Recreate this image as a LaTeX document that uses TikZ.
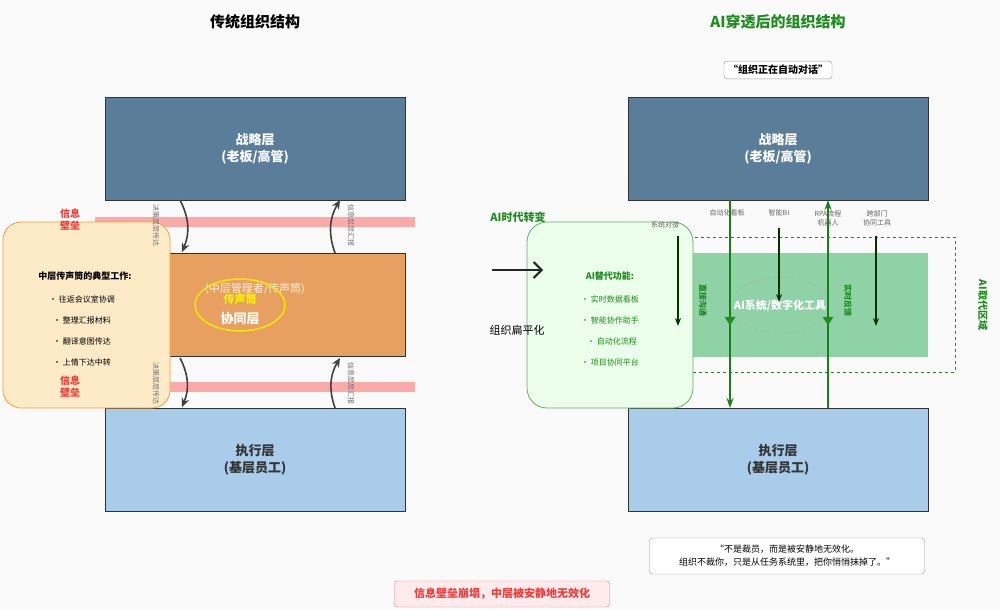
\documentclass[tikz,border=0pt]{standalone}
\usepackage{fontspec}
\setmainfont{Noto Sans CJK SC}
\usetikzlibrary{arrows.meta,shapes.geometric}
\definecolor{topc}{HTML}{5A7E9A}
\definecolor{midc}{HTML}{E8A060}
\definecolor{botc}{HTML}{A8CCE9}
\definecolor{gfill}{HTML}{8ED2A6}
\definecolor{gdark}{HTML}{1E8C1E}
\definecolor{notec}{HTML}{FDEBC8}
\definecolor{pinkc}{HTML}{FBAAAA}
\definecolor{redc}{HTML}{F03C3C}
\tikzset{
  layer/.style={draw=black!80,line width=0.8pt,minimum width=300pt,minimum height=103pt,align=center,font=\fontsize{13}{17}\selectfont\bfseries},
  vlab/.style={rotate=-90,font=\fontsize{7}{8}\selectfont,text=black!55},
  gvlab/.style={rotate=-90,font=\fontsize{8}{9}\selectfont\bfseries,text=gdark},
  small/.style={font=\fontsize{8}{10}\selectfont},
  curv/.style={-{Stealth[length=9pt,width=8pt]},line width=1.6pt,black!75},
  garr/.style={-{Stealth[length=10pt,width=7pt]},line width=2pt,gdark!90!black},
  tarr/.style={-{Stealth[length=8pt]},line width=1.2pt,black!80!green},
}
\begin{document}
\begin{tikzpicture}[x=1pt,y=-1pt]
\useasboundingbox[fill=black!2] (0,0) rectangle (1000,610);
% titles
\node[font=\fontsize{15}{18}\selectfont\bfseries] (t1) at (255,22) {传统组织结构};
\node[font=\fontsize{15}{18}\selectfont\bfseries,text=gdark] (t2) at (778,22) {AI穿透后的组织结构};
\node[draw=black!40,fill=white,rounded corners=3pt,font=\fontsize{10}{12}\selectfont\bfseries,inner sep=4pt] (sp) at (778,70) {“组织正在自动对话”};
% left pink bars
\fill[pinkc] (95,217) rectangle (415,227);
\fill[pinkc] (95,382) rectangle (415,392);
% left boxes
\node[layer,fill=topc,text=white] (L1) at (255,148.5) {战略层\\(老板/高管)};
\node[layer,fill=midc] (L2) at (255,305) {};
\node[layer,fill=botc,text=black!80] (L3) at (255,460) {执行层\\(基层员工)};
\node[text=white!90!orange,font=\fontsize{11}{13}\selectfont] (Lm) at (255,289) {(中层管理者/传声筒)};
\draw[yellow!90!orange,line width=1.5pt] (240,305) ellipse (45pt and 26pt);
\node[text=yellow,font=\fontsize{11}{13}\selectfont\bfseries] (Ly) at (240,299) {传声筒};
\node[text=white,font=\fontsize{13}{15}\selectfont\bfseries] (Lc) at (240,319) {协同层};
% note box
\node[draw=orange!80,fill=notec,rounded corners=18pt,minimum width=167pt,minimum height=186pt,line width=0.8pt] (note) at (86.5,315) {};
\node[font=\fontsize{9}{11}\selectfont\bfseries] (nt) at (85,276) {中层传声筒的典型工作:};
\node[small] (n1) at (82,299) {• 往返会议室协调};
\node[small] (n2) at (82,320) {• 整理汇报材料};
\node[small] (n3) at (82,341) {• 翻译意图传达};
\node[small] (n4) at (82,362) {• 上情下达中转};
\node[text=redc,align=center,font=\fontsize{10}{12}\selectfont\bfseries] (w1) at (70,220) {信息\\壁垒};
\node[text=redc,align=center,font=\fontsize{10}{12}\selectfont\bfseries] (w2) at (70,387) {信息\\壁垒};
% curved arrows
\coordinate (a1) at (180,200); \coordinate (a2) at (182,252);
\coordinate (a3) at (335,253); \coordinate (a4) at (340,200);
\coordinate (b1) at (180,358); \coordinate (b2) at (182,407);
\coordinate (b3) at (335,408); \coordinate (b4) at (340,358);
\draw[curv] (a1) to[bend left=25] (a2);
\draw[curv] (a3) to[bend left=25] (a4);
\draw[curv] (b1) to[bend left=25] (b2);
\draw[curv] (b3) to[bend left=25] (b4);
\node[vlab] (v1) at (156,225) {决策层层传达};
\node[vlab] (v2) at (351,225) {信息层层汇报};
\node[vlab] (v3) at (156,383) {决策层层传达};
\node[vlab] (v4) at (351,383) {信息层层汇报};
% right side
\node[layer,fill=topc,text=white] (R1) at (778,148.5) {战略层\\(老板/高管)};
\node[layer,fill=botc,text=black!80] (R3) at (778,460) {执行层\\(基层员工)};
\draw[gdark,dashed,line width=1pt] (690,237) rectangle (955,372);
\node[fill=gfill,minimum width=235pt,minimum height=104pt] (R2) at (810.5,305) {};
\node[gvlab,text=gdark,font=\fontsize{10}{12}\selectfont\bfseries] (az) at (983,305) {AI取代区域};
\node[draw=gdark!70,fill=green!8,rounded corners=20pt,minimum width=166pt,minimum height=186pt,line width=0.8pt] (gbox) at (610,315) {};
\node[text=gdark,font=\fontsize{11}{13}\selectfont\bfseries] (ai) at (518,217) {AI时代转变};
\coordinate (ar1) at (492,270); \coordinate (ar2) at (543,270);
\draw[-{Straight Barb[length=8pt,width=16pt]},line width=2pt,black!85] (ar1) -- (ar2);
\node[font=\fontsize{11}{13}\selectfont] (fl) at (517,330) {组织扁平化};
\node[text=gdark,font=\fontsize{9}{11}\selectfont\bfseries] (at) at (610,276) {AI替代功能:};
\node[small,text=gdark] (g1) at (610,299) {• 实时数据看板};
\node[small,text=gdark] (g2) at (610,320) {• 智能协作助手};
\node[small,text=gdark] (g3) at (612,341) {• 自动化流程};
\node[small,text=gdark] (g4) at (610,362) {• 项目协同平台};
\draw[black!30,dashed] (780,305) ellipse (50pt and 28pt);
\node[text=white,font=\fontsize{11}{13}\selectfont\bfseries] (cen) at (780,306) {AI系统/数字化工具};
\node[gvlab] (d1) at (703,300) {直接沟通};
\node[gvlab] (d2) at (848,300) {实时反馈};
% tool labels and arrows
\node[small,text=black!60,font=\fontsize{7}{9}\selectfont] (k1) at (665,225) {系统对接};
\node[small,text=black!60,font=\fontsize{7}{9}\selectfont] (k2) at (727,213) {自动化看板};
\node[small,text=black!60,font=\fontsize{7}{9}\selectfont] (k3) at (779,213) {智能BI};
\node[small,text=black!60,align=center,font=\fontsize{7}{9}\selectfont] (k4) at (828,218) {RPA流程\\机器人};
\node[small,text=black!60,align=center,font=\fontsize{7}{9}\selectfont] (k5) at (877,218) {跨部门\\协同工具};
\coordinate (e1) at (678,326); \coordinate (e3) at (779,302); \coordinate (e5) at (876,326);
\draw[tarr] (678,236) -- (e1);
\draw[tarr] (k3.south) ++(0,8) -- (e3);
\draw[tarr] (876,236) -- (e5);
\draw[garr] (730,200) -- (730,408);
\draw[garr] (828,408) -- (828,200);
\draw[gdark,fill=gdark] (730,325) -- ++(-5,-8) -- ++(10,0) -- cycle;
\draw[gdark,fill=gdark] (828,325) -- ++(-5,-8) -- ++(10,0) -- cycle;
% quote
\node[draw=black!40,fill=white,rounded corners=3pt,align=center,font=\fontsize{9}{13}\selectfont,minimum width=275pt,minimum height=36pt] (q) at (787,556) {“不是裁员，而是被安静地无效化。\\组织不裁你，只是从任务系统里，把你悄悄抹掉了。”};
\node[draw=redc!70,fill=red!8,rounded corners=3pt,text=redc,font=\fontsize{11}{13}\selectfont\bfseries,minimum width=215pt,minimum height=26pt] (bot) at (502,594) {信息壁垒崩塌，中层被安静地无效化};
\end{tikzpicture}
\end{document}
